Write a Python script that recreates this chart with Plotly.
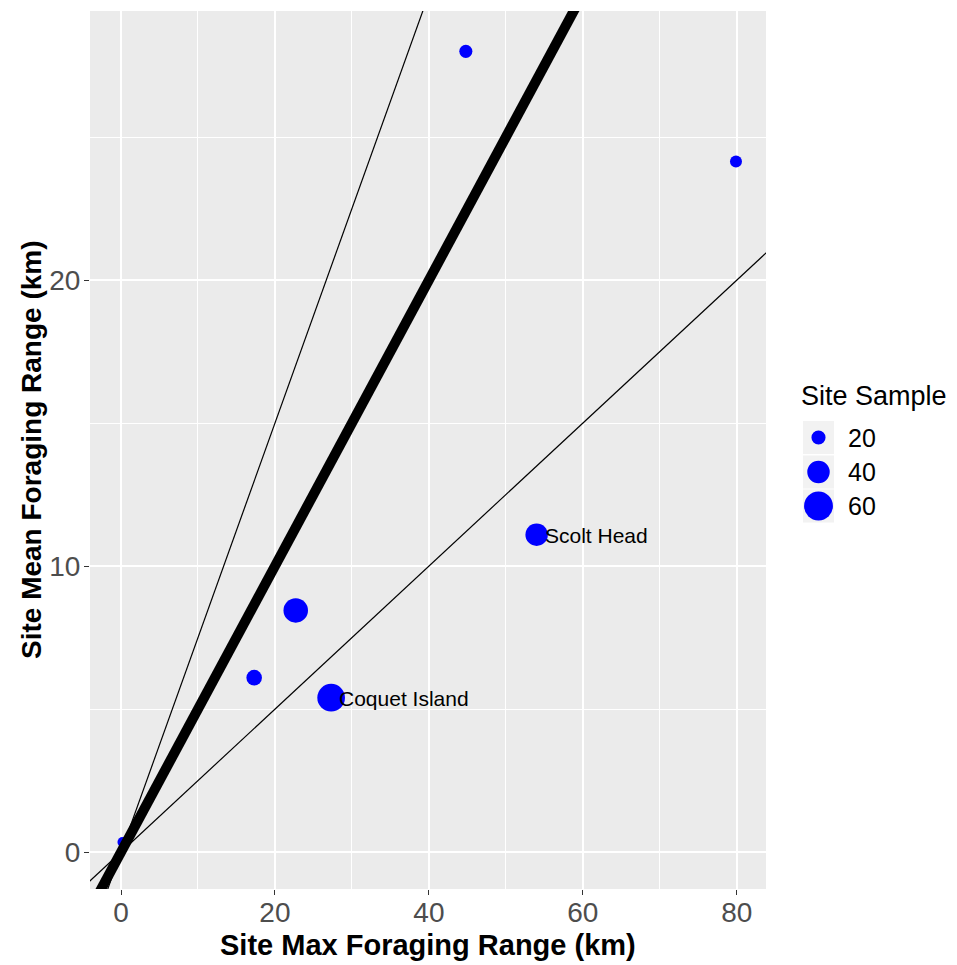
import plotly.graph_objects as go

# ---------------- data ----------------
site_max = [0.2, 17.3, 22.7, 27.3, 54.0, 44.8, 79.9]
site_mean = [0.35, 6.1, 8.45, 5.4, 11.1, 28.0, 24.15]
site_sample = [13, 23, 46, 56, 40, 18, 16]
site_label = ["", "", "", "Coquet Island", "Scolt Head", "", ""]

ref_slopes = [0.25, 0.5, 0.75]
ref_widths = [1.2, 10, 1.2]

legend_values = [20, 40, 60]
x_ticks = [0, 20, 40, 60, 80]
y_ticks = [0, 10, 20]

X_RANGE = [-4.03, 83.8]
Y_RANGE = [-1.29, 29.41]

OFF = 8  # page body margin
W, H = 957 - OFF, 965 - OFF
ML, MT = 90 - OFF, 11 - OFF
PR, PB = 766 - OFF, 889 - OFF
MR, MB = W - PR, H - PB
PW, PH = PR - ML, PB - MT

FONT = "Liberation Sans, Arial, sans-serif"


def diam(v):
    return -6 + 4.5 * v ** 0.5


def px(xp):
    return (xp - OFF - ML) / PW


def py(yp):
    return (PB - (yp - OFF)) / PH


fig = go.Figure()

fig.add_trace(go.Scatter(
    x=site_max, y=site_mean, mode="markers",
    marker=dict(color="#0000FF", opacity=1, size=[diam(s) for s in site_sample], line=dict(width=0)),
    showlegend=False, hoverinfo="x+y",
))

for s, w in zip(ref_slopes, ref_widths):
    xs = [-10, 120]
    fig.add_trace(go.Scatter(
        x=xs, y=[s * v for v in xs], mode="lines",
        line=dict(color="black", width=w), showlegend=False, hoverinfo="skip",
    ))

annotations = []
for xv, yv, lab in zip(site_max, site_mean, site_label):
    if lab:
        annotations.append(dict(
            x=xv, y=yv, xref="x", yref="y", text=lab, showarrow=False,
            xanchor="left", yanchor="middle", xshift=6, yshift=-1,
            font=dict(family=FONT, size=21, color="black"),
        ))

# axis titles
annotations.append(dict(
    x=0.5, y=py(945), xref="paper", yref="paper", text="<b>Site Max Foraging Range (km)</b>",
    showarrow=False, xanchor="center", yanchor="middle",
    font=dict(family=FONT, size=29, color="black"),
))
annotations.append(dict(
    x=px(31), y=0.5, xref="paper", yref="paper", text="<b>Site Mean Foraging Range (km)</b>",
    showarrow=False, xanchor="center", yanchor="middle", textangle=-90,
    font=dict(family=FONT, size=28, color="black"),
))

# legend (manual)
annotations.append(dict(
    x=px(799), y=py(396), xref="paper", yref="paper", text="Site Sample",
    showarrow=False, xanchor="left", yanchor="middle",
    font=dict(family=FONT, size=27, color="black"),
))
shapes = []
key_top = [421, 455.5, 489.5]
for v, kt in zip(legend_values, key_top):
    shapes.append(dict(type="rect", xref="paper", yref="paper",
                       x0=px(803), x1=px(834), y0=py(kt + 33), y1=py(kt),
                       fillcolor="#F2F2F2", line=dict(width=0), layer="above"))
    d = diam(v)
    cy = kt + 16.5
    shapes.append(dict(type="circle", xref="paper", yref="paper",
                       xsizemode="pixel", ysizemode="pixel",
                       xanchor=px(818.5), yanchor=py(cy),
                       x0=-d / 2, x1=d / 2, y0=-d / 2, y1=d / 2,
                       fillcolor="#0000FF", line=dict(width=0), layer="above"))
    annotations.append(dict(
        x=px(846), y=py(cy), xref="paper", yref="paper", text=str(v),
        showarrow=False, xanchor="left", yanchor="middle",
        font=dict(family=FONT, size=25, color="black"),
    ))

fig.update_layout(
    width=W, height=H,
    margin=dict(l=ML, r=MR, t=MT, b=MB, pad=0),
    paper_bgcolor="white", plot_bgcolor="#EBEBEB",
    showlegend=False,
    annotations=annotations, shapes=shapes,
    xaxis=dict(
        range=X_RANGE, tickvals=x_ticks, ticktext=[str(t) for t in x_ticks],
        showgrid=True, gridcolor="white", gridwidth=2,
        minor=dict(dtick=10, tick0=0, showgrid=True, gridcolor="white", gridwidth=1, ticks=""),
        zeroline=False, showline=False,
        ticks="outside", ticklen=5, tickwidth=1.2, tickcolor="#333333",
        tickfont=dict(family=FONT, size=28, color="#4D4D4D"),
        ticklabelstandoff=-7,
    ),
    yaxis=dict(
        range=Y_RANGE, tickvals=y_ticks, ticktext=[str(t) for t in y_ticks],
        showgrid=True, gridcolor="white", gridwidth=2,
        minor=dict(dtick=5, tick0=0, showgrid=True, gridcolor="white", gridwidth=1, ticks=""),
        zeroline=False, showline=False,
        ticks="outside", ticklen=5, tickwidth=1.2, tickcolor="#333333",
        tickfont=dict(family=FONT, size=28, color="#4D4D4D"),
        ticklabelstandoff=-2,
    ),
)

fig.write_html("out.html")
